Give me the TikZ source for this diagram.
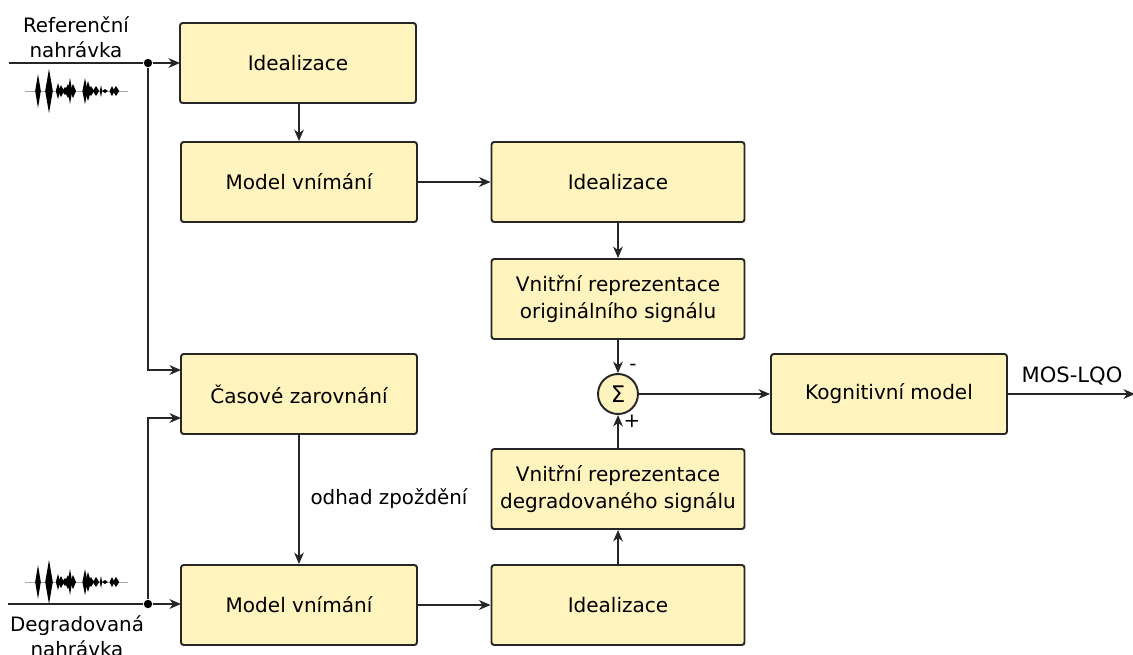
\documentclass[tikz,border=0pt]{standalone}
\usepackage{fontspec}
\setmainfont{DejaVu Sans}
\usetikzlibrary{arrows.meta}
\definecolor{boxfill}{RGB}{255,243,190}
\tikzset{
  block/.style={draw=black!85,fill=boxfill,rounded corners=1.5pt,line width=1.1pt,inner sep=0pt,
    minimum width=4.72cm,minimum height=1.6cm,align=center,font=\fontsize{11.4}{15.2}\selectfont},
  wideblock/.style={block,minimum width=5.06cm},
  sigmanode/.style={draw=black!85,fill=boxfill,circle,line width=1.1pt,inner sep=0pt,minimum size=0.8cm,font=\fontsize{13}{15}\selectfont},
  flow/.style={draw=black!85,line width=1.1pt,-{Stealth[length=6.5pt,width=5.5pt,inset=2pt]}},
  wire/.style={draw=black!85,line width=1.1pt},
  dotnode/.style={circle,fill=black,inner sep=0pt,minimum size=4.8pt},
  caption/.style={inner sep=0pt,align=center,font=\fontsize{11.3}{14.2}\selectfont}
}
\newcommand{\wavesig}[2]{%
  \draw [black!35,line width=0.4pt] (#1+25,#2) -- (#1+128,#2);
  \foreach \xa/\ha/\wa in {38/17/2.8,49/22/3.8,58/8/2.2,61/6/3,65/4/3,70/13/2.2,68/7/3.5,73/7/3,
    85/13/2.6,88/10/3,91/5/3,96/5/3.2,101/6/1.2,105/2/3,112/5/2.5,116/5/3.2}
    \fill [black] (#1+\xa-\wa,#2) -- (#1+\xa,#2+\ha) -- (#1+\xa+\wa,#2) -- (#1+\xa,#2-\ha) -- cycle;
}
\begin{document}
\begin{tikzpicture}[x=0.02cm,y=0.02cm]
\useasboundingbox (0,0) rectangle (1133,-654);
\node [block] (idealref) at (298,-63) {Idealizace};
\node [block] (modelref) at (299,-182) {Model vnímání};
\node [wideblock] (idealorig) at (618,-182) {Idealizace};
\node [wideblock] (reprorig) at (618,-299) {Vnitřní reprezentace\\originálního signálu};
\node [sigmanode] (suma) at (618,-394) {Σ};
\node [block] (kog) at (889,-394) {Kognitivní model};
\node [block] (zarovnani) at (299,-394) {Časové zarovnání};
\node [wideblock] (reprdeg) at (618,-489) {Vnitřní reprezentace\\degradovaného signálu};
\node [block] (modeldeg) at (299,-605) {Model vnímání};
\node [wideblock] (idealdeg) at (618,-605) {Idealizace};
\node [dotnode] (jref) at (148,-63) {};
\node [dotnode] (jdeg) at (148,-604) {};
\coordinate (inref) at (9,-63);
\coordinate (indeg) at (8,-604);
\coordinate (zarref) at (181,-370);
\coordinate (zardeg) at (181,-418);
\coordinate (idealin) at (180,-63);
\coordinate (modelin) at (181,-604);
\coordinate (mosout) at (1135,-394);
\node [caption] (reflabel) at (76,-37) {Referenční\\nahrávka};
\node [caption] (deglabel) at (77,-636) {Degradovaná\\nahrávka};
\node [caption] (odhad) at (389,-499) {odhad zpoždění};
\node [caption,font=\fontsize{12}{14}\selectfont] (mos) at (1072,-376) {MOS-LQO};
\node [caption] (minus) at (633,-367) {-};
\node [caption] (plus) at (632,-421) {+};
\wavesig{0}{-91}
\wavesig{0}{-582}
\draw [wire] (inref) -- (jref);
\draw [flow] (jref) -- (idealin);
\draw [wire] (indeg) -- (jdeg);
\draw [flow] (jdeg) -- (modelin);
\draw [flow] (jref) |- (zarref);
\draw [flow] (jdeg) |- (zardeg);
\draw [flow] (modelref |- idealref.south) -- (modelref);
\draw [flow] (modelref) -- (idealorig);
\draw [flow] (idealorig) -- (reprorig);
\draw [flow] (reprorig) -- (suma);
\draw [flow] (reprdeg) -- (suma);
\draw [flow] (idealdeg) -- (reprdeg);
\draw [flow] (modeldeg) -- (idealdeg);
\draw [flow] (zarovnani) -- (modeldeg);
\draw [flow] (suma) -- (kog);
\draw [flow] (kog) -- (mosout);
\end{tikzpicture}
\end{document}
